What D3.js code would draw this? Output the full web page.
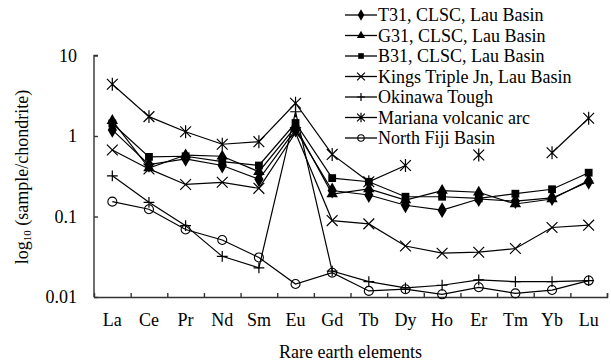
<!DOCTYPE html>
<html>
<head>
<meta charset="utf-8">
<script src="https://cdn.jsdelivr.net/npm/d3@7"></script>
<style>
  body { margin: 0; background: #fff; }
  text { font-family: "Liberation Serif", "Times New Roman", serif; fill: #000; }
</style>
</head>
<body>
<svg id="chart" width="611" height="364"></svg>
<script>
// rare earth elements on the x axis
const elements = ['La', 'Ce', 'Pr', 'Nd', 'Sm', 'Eu', 'Gd', 'Tb', 'Dy', 'Ho', 'Er', 'Tm', 'Yb', 'Lu'];
const yTicks = [0.01, 0.1, 1, 10];
const yTickLabels = ['0.01', '0.1', '1', '10'];

// chondrite-normalised values (null = no sample)
const t31 = [1.19, 0.44, 0.52, 0.43, 0.29, 1.2, 0.21, 0.185, 0.138, 0.12, 0.165, 0.155, 0.17, 0.27];
const g31 = [1.55, 0.40, 0.58, 0.56, 0.36, 1.3, 0.19, 0.22, 0.16, 0.21, 0.20, 0.143, 0.165, 0.28];
const b31 = [1.43, 0.55, 0.56, 0.48, 0.43, 1.45, 0.30, 0.27, 0.176, 0.176, 0.168, 0.192, 0.218, 0.35];
const kings = [0.67, 0.39, 0.25, 0.266, 0.224, 1.1, 0.089, 0.081, 0.043, 0.035, 0.036, 0.040, 0.073, 0.078];
const okinawa = [0.32, 0.15, 0.077, 0.032, 0.023, 2.0, 0.021, 0.0155, 0.013, 0.014, 0.0163, 0.0155, 0.0155, 0.016];
const mariana = [4.39, 1.74, 1.13, 0.79, 0.85, 2.55, 0.59, 0.27, 0.43, null, 0.58, null, 0.62, 1.66];
const fiji = [0.153, 0.123, 0.069, 0.051, 0.031, 0.0145, 0.020, 0.0119, 0.0125, 0.0108, 0.0132, 0.0111, 0.0122, 0.016];

const seriesNames = ['T31, CLSC, Lau Basin', 'G31, CLSC, Lau Basin', 'B31, CLSC, Lau Basin',
  'Kings Triple Jn, Lau Basin', 'Okinawa Tough', 'Mariana volcanic arc', 'North Fiji Basin'];
const seriesValues = [t31, g31, b31, kings, okinawa, mariana, fiji];
const seriesMarkers = ['diamond', 'triangle', 'square', 'cross', 'plus', 'asterisk', 'circle'];

const svg = d3.select('#chart');
const plotLeft = 94, plotRight = 607, plotTop = 55.5, plotBottom = 297;

const x = d3.scaleBand().domain(elements).range([plotLeft, plotRight]);
const xEdge = d3.scaleLinear().domain([0, elements.length]).range([plotLeft, plotRight]);
const y = d3.scaleLog().domain([0.01, 10]).range([plotBottom, plotTop]);

// axes
const yAxis = svg.append('g')
  .attr('transform', 'translate(' + plotLeft + ',0)')
  .call(d3.axisLeft(y).tickValues(yTicks).tickSize(-4).tickPadding(17)
    .tickFormat((d, i) => yTickLabels[i]));
yAxis.selectAll('text').style('font-size', '18px').style('font-family', 'Liberation Serif');

const xTicks = svg.append('g')
  .attr('transform', 'translate(0,' + plotBottom + ')')
  .call(d3.axisBottom(xEdge).tickValues(d3.range(1, elements.length + 1)).tickSize(-4).tickFormat(''));

const xAxis = svg.append('g')
  .attr('transform', 'translate(0,' + plotBottom + ')')
  .call(d3.axisBottom(x).tickSize(0).tickPadding(16));
xAxis.selectAll('text').style('font-size', '18px').style('font-family', 'Liberation Serif');
xAxis.select('.domain').remove();

svg.selectAll('.domain, .tick line').attr('stroke', '#333').attr('stroke-width', 1.4);
yAxis.select('.domain').attr('d', 'M0,' + plotBottom + 'V' + plotTop + 'h4');

// axis titles
svg.append('text')
  .attr('x', (plotLeft + plotRight) / 2).attr('y', 358)
  .attr('text-anchor', 'middle').style('font-size', '18px')
  .text('Rare earth elements');

const yTitle = svg.append('text')
  .attr('transform', 'translate(28,' + 177 + ') rotate(-90)')
  .attr('text-anchor', 'middle').style('font-size', '18px');
yTitle.append('tspan').text('log');
yTitle.append('tspan').attr('baseline-shift', '-25%').style('font-size', '11px').text('10');
yTitle.append('tspan').text(' (sample/chondrite)');

// markers
function drawMarker(g, type, s) {
  if (type === 'diamond') {
    g.append('path').attr('d', d3.symbol(d3.symbolDiamond, s * s * 0.9)()).attr('fill', '#000');
  } else if (type === 'triangle') {
    g.append('path').attr('d', d3.symbol(d3.symbolTriangle, s * s * 0.7)()).attr('fill', '#000');
  } else if (type === 'square') {
    g.append('path').attr('d', d3.symbol(d3.symbolSquare, s * s * 0.75)()).attr('fill', '#000');
  } else if (type === 'cross') {
    const h = s * 0.6;
    g.append('path').attr('d', 'M' + -h + ',' + -h + 'L' + h + ',' + h + 'M' + -h + ',' + h + 'L' + h + ',' + -h)
      .attr('stroke', '#000').attr('stroke-width', 1.2).attr('fill', 'none');
  } else if (type === 'plus') {
    const h = s * 0.6;
    g.append('path').attr('d', 'M' + -h + ',0H' + h + 'M0,' + -h + 'V' + h)
      .attr('stroke', '#000').attr('stroke-width', 1.2).attr('fill', 'none');
  } else if (type === 'asterisk') {
    const h = s * 0.6;
    g.append('path').attr('d', 'M' + -h + ',' + -h + 'L' + h + ',' + h + 'M' + -h + ',' + h + 'L' + h + ',' + -h + 'M0,' + -h * 1.2 + 'V' + h * 1.2)
      .attr('stroke', '#000').attr('stroke-width', 1.2).attr('fill', 'none');
  } else if (type === 'circle') {
    g.append('circle').attr('r', s * 0.5).attr('fill', 'none')
      .attr('stroke', '#000').attr('stroke-width', 1.1);
  }
}

const line = d3.line()
  .defined(d => d != null)
  .x((d, i) => x(elements[i]) + x.bandwidth() / 2)
  .y(d => y(d));

seriesValues.forEach((vals, k) => {
  svg.append('path')
    .attr('d', line(vals))
    .attr('fill', 'none').attr('stroke', '#000').attr('stroke-width', 1.2);
});

seriesValues.forEach((vals, k) => {
  vals.forEach((v, i) => {
    if (v == null) return;
    const g = svg.append('g')
      .attr('transform', 'translate(' + (x(elements[i]) + x.bandwidth() / 2) + ',' + y(v) + ')');
    drawMarker(g, seriesMarkers[k], 9);
  });
});

// legend
const legend = svg.append('g');
seriesNames.forEach((name, k) => {
  const ly = 15 + k * 20.5;
  const row = legend.append('g').attr('transform', 'translate(0,' + ly + ')');
  row.append('line').attr('x1', 345).attr('x2', 377).attr('y1', 0).attr('y2', 0)
    .attr('stroke', '#000').attr('stroke-width', 1.3);
  const m = row.append('g').attr('transform', 'translate(361,0)');
  drawMarker(m, seriesMarkers[k], 6.5);
  row.append('text').attr('x', 378).attr('y', 6).style('font-size', '18px').text(name);
});
</script>
</body>
</html>
